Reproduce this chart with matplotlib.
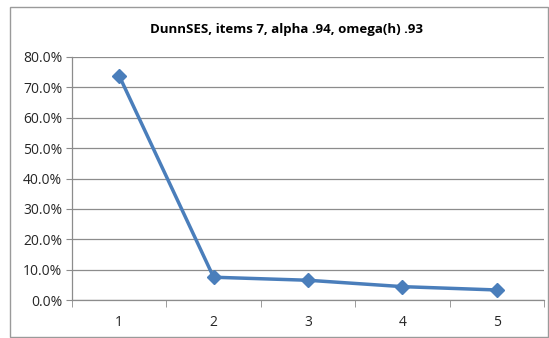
import numpy as np
import matplotlib.pyplot as plt
from matplotlib.patches import Rectangle
from matplotlib.ticker import FuncFormatter, FixedLocator

categories = ["1", "2", "3", "4", "5"]
values = [73.8, 7.5, 6.5, 4.4, 3.3]
y_ticks = [0, 10, 20, 30, 40, 50, 60, 70, 80]
title = "DunnSES, items 7, alpha .94, omega(h) .93"

plt.rcParams['font.family'] = ['Open Sans', 'DejaVu Sans']

W, H = 549, 338
fig = plt.figure(figsize=(W / 100, H / 100), dpi=100)
ax = fig.add_axes([72 / W, 1 - 300 / H, (544 - 72) / W, (300 - 57) / H])

# outer chart frame
fig.patches.append(Rectangle((10 / W, 1 / H), (548 - 10) / W, (331 - 1) / H,
                             transform=fig.transFigure, fill=False,
                             edgecolor='#9a9a9a', linewidth=1.0))

x = np.arange(len(categories))
ax.plot(x, values, color='#4a7ebb', linewidth=2.5, marker='D', markersize=7,
        markeredgecolor='#4a7ebb', markerfacecolor='#4a7ebb', zorder=3)

ax.set_xlim(-0.5, len(categories) - 0.5)
ax.set_ylim(0, 80)
ax.set_yticks(y_ticks)
ax.yaxis.set_major_formatter(FuncFormatter(lambda v, p: f"{v:.1f}%"))
ax.grid(axis='y', color='#8c8c8c', linewidth=0.9)
ax.set_axisbelow(True)

# category labels centred, tick marks between categories
ax.set_xticks(x)
ax.set_xticklabels(categories)
ax.xaxis.set_minor_locator(FixedLocator(np.arange(-0.5, len(categories), 1.0)))
ax.tick_params(axis='x', which='major', length=0, pad=11)
ax.tick_params(axis='x', which='minor', length=5, color='#8c8c8c', direction='out')
ax.tick_params(axis='y', length=4, color='#8c8c8c', pad=3)
ax.tick_params(labelsize=10, labelcolor='#262626')

for s in ['top', 'right']:
    ax.spines[s].set_visible(False)
for s in ['left', 'bottom']:
    ax.spines[s].set_color('#8c8c8c')
    ax.spines[s].set_linewidth(0.9)

fig.text(287 / W, 1 - 30 / H, title, ha='center', va='center',
         fontsize=9.5, fontweight='bold', color='#000000')

fig.savefig('out.png', dpi=100)
